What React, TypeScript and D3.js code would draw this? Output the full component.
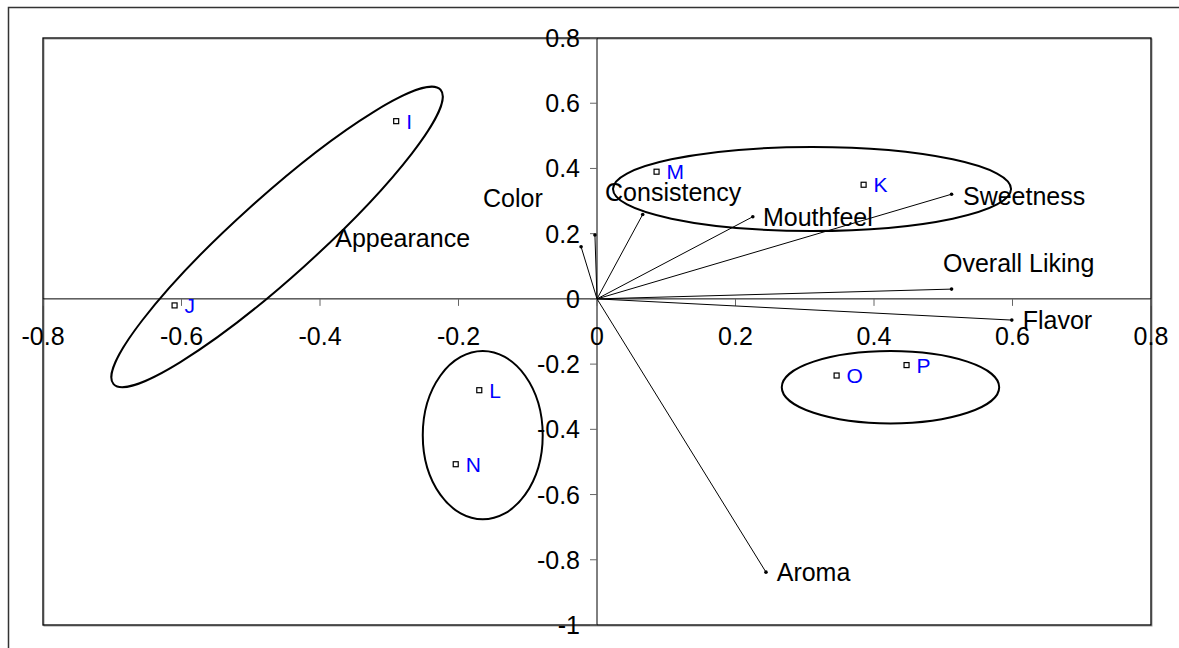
import * as d3 from "d3"
import { useEffect, useRef } from "react"

// Observations (products) in the biplot
const obsNames = ["I", "J", "K", "L", "M", "N", "O", "P"]
const obsX = [-0.29, -0.61, 0.385, -0.17, 0.086, -0.204, 0.346, 0.447]
const obsY = [0.545, -0.02, 0.35, -0.28, 0.39, -0.507, -0.235, -0.203]

// Attribute vectors
const attrNames = [
  "Appearance",
  "Color",
  "Consistency",
  "Mouthfeel",
  "Sweetness",
  "Overall Liking",
  "Flavor",
  "Aroma",
]
const attrX = [-0.023, -0.003, 0.066, 0.225, 0.512, 0.512, 0.599, 0.244]
const attrY = [0.16, 0.196, 0.259, 0.252, 0.321, 0.03, -0.065, -0.838]
// where each attribute label sits (left edge, middle), in data units
const attrLabelX = [-0.378, -0.1646, 0.0116, 0.2397, 0.5285, 0.4996, 0.6147, 0.2595]
const attrLabelY = [0.187, 0.309, 0.328, 0.251, 0.3155, 0.11, -0.0647, -0.8375]

// Group ellipses (centre, radii in axis units, rotation in degrees)
const ellCx = [-0.462, -0.165, 0.4238, 0.3105]
const ellCy = [0.19, -0.418, -0.2708, 0.337]
const ellRx = [0.3177, 0.0866, 0.157, 0.2874] // x-axis units
const ellRy = [0.0578, 0.258, 0.111, 0.1288] // first is x-axis units (rotated), rest y-axis units
const ellRot = [-42, 0, 0, 0]

const xTicks = [-0.8, -0.6, -0.4, -0.2, 0, 0.2, 0.4, 0.6, 0.8]
const yTicks = [-1, -0.8, -0.6, -0.4, -0.2, 0, 0.2, 0.4, 0.6, 0.8]

const W = 1179
const H = 648
const FONT = "'Liberation Sans', Arial, sans-serif"

// Excel style: plain hyphen for negatives
const fmt = (d: number) => String(+d.toFixed(1))

const App = () => {
  const svgRef = useRef<SVGSVGElement | null>(null)

  useEffect(() => {
    if (!svgRef.current) return
    const svg = d3.select(svgRef.current)
    svg.selectAll("*").remove()

    const plot = { left: 43, top: 38, right: 1151, bottom: 625 }

    const x = d3.scaleLinear().domain([-0.8, 0.8]).range([plot.left, plot.right])
    const y = d3.scaleLinear().domain([-1, 0.8]).range([plot.bottom, plot.top])

    // outer chart frame (runs off the page)
    svg
      .append("rect")
      .attr("x", 8.5)
      .attr("y", 7.5)
      .attr("width", 1300)
      .attr("height", 800)
      .attr("fill", "#fff")
      .attr("stroke", "#333")
      .attr("stroke-width", 1.5)

    const defs = svg.append("defs")
    defs
      .append("clipPath")
      .attr("id", "label-clip")
      .append("rect")
      .attr("x", 0)
      .attr("y", 0)
      .attr("width", 1097)
      .attr("height", H)

    // plot area
    svg
      .append("rect")
      .attr("x", plot.left + 1)
      .attr("y", plot.top + 1)
      .attr("width", plot.right - plot.left)
      .attr("height", plot.bottom - plot.top)
      .attr("fill", "none")
      .attr("stroke", "#999")
      .attr("stroke-width", 1)
    svg
      .append("rect")
      .attr("x", plot.left)
      .attr("y", plot.top)
      .attr("width", plot.right - plot.left)
      .attr("height", plot.bottom - plot.top)
      .attr("fill", "none")
      .attr("stroke", "#000")
      .attr("stroke-width", 1.3)

    // axes through the origin
    const x0 = x(0)
    const y0 = y(0)
    svg
      .append("line")
      .attr("x1", plot.left)
      .attr("x2", plot.right)
      .attr("y1", y0)
      .attr("y2", y0)
      .attr("stroke", "#000")
    svg
      .append("line")
      .attr("x1", x0)
      .attr("x2", x0)
      .attr("y1", plot.top)
      .attr("y2", plot.bottom)
      .attr("stroke", "#000")

    // x ticks + labels
    const xt = svg.append("g")
    xt.selectAll("line")
      .data(xTicks)
      .enter()
      .append("line")
      .attr("x1", d => x(d))
      .attr("x2", d => x(d))
      .attr("y1", y0)
      .attr("y2", y0 + 7)
      .attr("stroke", "#666")
    xt.selectAll("text")
      .data(xTicks)
      .enter()
      .append("text")
      .attr("x", d => x(d))
      .attr("y", y0 + 46)
      .attr("text-anchor", "middle")
      .style("font-family", FONT)
      .style("font-size", "25px")
      .text(d => fmt(d))

    // y ticks + labels
    const yt = svg.append("g")
    yt.selectAll("line")
      .data(yTicks)
      .enter()
      .append("line")
      .attr("x1", x0 - 7)
      .attr("x2", x0)
      .attr("y1", d => y(d))
      .attr("y2", d => y(d))
      .attr("stroke", "#666")
    yt.selectAll("text")
      .data(yTicks)
      .enter()
      .append("text")
      .attr("x", x0 - 17)
      .attr("y", d => y(d))
      .attr("dy", "0.36em")
      .attr("text-anchor", "end")
      .style("font-family", FONT)
      .style("font-size", "25px")
      .text(d => fmt(d))

    // attribute vectors
    const attrs = attrNames.map((name, i) => ({
      name,
      x: attrX[i],
      y: attrY[i],
      lx: attrLabelX[i],
      ly: attrLabelY[i],
    }))
    svg
      .append("g")
      .selectAll("line")
      .data(attrs)
      .enter()
      .append("line")
      .attr("x1", x0)
      .attr("y1", y0)
      .attr("x2", d => x(d.x))
      .attr("y2", d => y(d.y))
      .attr("stroke", "#000")
      .attr("stroke-width", 1)
    svg
      .append("g")
      .selectAll("circle")
      .data(attrs)
      .enter()
      .append("circle")
      .attr("cx", d => x(d.x))
      .attr("cy", d => y(d.y))
      .attr("r", 1.8)
      .attr("fill", "#000")
    svg
      .append("g")
      .attr("clip-path", "url(#label-clip)")
      .selectAll("text")
      .data(attrs)
      .enter()
      .append("text")
      .attr("x", d => x(d.lx))
      .attr("y", d => y(d.ly))
      .attr("dy", "0.36em")
      .style("font-family", FONT)
      .style("font-size", "25px")
      .attr("fill", "#000")
      .text(d => d.name)

    // group ellipses
    const pxPerX = x(1) - x(0)
    const pxPerY = y(0) - y(1)
    svg
      .append("g")
      .selectAll("ellipse")
      .data(ellCx.map((_, i) => i))
      .enter()
      .append("ellipse")
      .attr("cx", 0)
      .attr("cy", 0)
      .attr("rx", i => ellRx[i] * pxPerX)
      .attr("ry", i => ellRy[i] * (ellRot[i] !== 0 ? pxPerX : pxPerY))
      .attr("transform", i => `translate(${x(ellCx[i])},${y(ellCy[i])}) rotate(${ellRot[i]})`)
      .attr("fill", "none")
      .attr("stroke", "#000")
      .attr("stroke-width", 2)

    // observations
    const obs = obsNames.map((name, i) => ({ name, x: obsX[i], y: obsY[i] }))
    svg
      .append("g")
      .selectAll("rect")
      .data(obs)
      .enter()
      .append("rect")
      .attr("x", d => x(d.x) - 2.5)
      .attr("y", d => y(d.y) - 2.5)
      .attr("width", 5)
      .attr("height", 5)
      .attr("fill", "#fff")
      .attr("stroke", "#000")
      .attr("stroke-width", 1.2)
    svg
      .append("g")
      .selectAll("text")
      .data(obs)
      .enter()
      .append("text")
      .attr("x", d => x(d.x) + 10)
      .attr("y", d => y(d.y))
      .attr("dy", "0.36em")
      .style("font-family", FONT)
      .style("font-size", "21px")
      .attr("fill", "#0000ff")
      .text(d => d.name)
  }, [])

  return (
    <svg
      ref={svgRef}
      width={W}
      height={H}
      style={{ position: "fixed", left: 0, top: 0, background: "#fff" }}
    />
  )
}

export default App
